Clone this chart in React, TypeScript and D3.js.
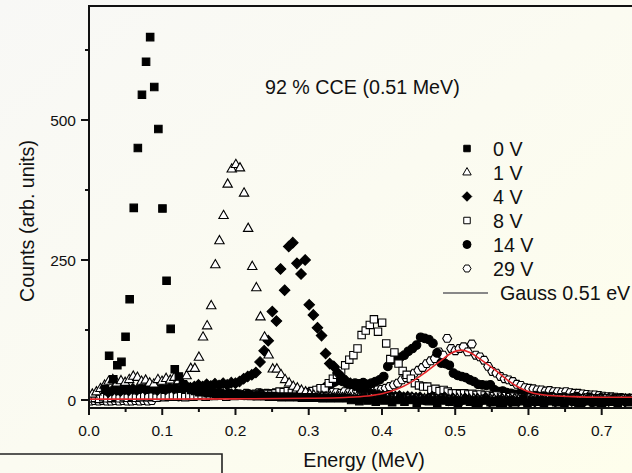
import React from "react";
import * as d3 from "d3";

// ---- data (energies are channel calibration: e0 + i * channel width) ----
const channelWidth = 0.0056; // MeV per channel

const series0VStart = 0.0051;
const counts0V: (number | null)[] = [
  null, null, null, 19, 79, 37, 62, 68, 113, 180, 343, 450, 545, 604, 648, 559, 484, 342, 213, 127, 55, 42,
  28, 22, 18, 16, 14, 15, 12, 13, 11, 12,
  10, 11, 9, 10, 9, 8, 9, 8, 7, 8,
  7, 6, 7, 6, 5, 6, 5, 6, 5, 4,
  5, 4, 5, 4, 3, 4, 3, 4, 3, 4,
  3, 0, 2, -2, 3, -1, 1, -3, 2, -1,
  1, -4, 0, 2, -3, 0, 1, -5, -1, 1,
  -2, 0, -5, 1, -1, -3, 0, -6, -1, 1,
  -3, 0, -5, -1, 1, -4, -2, 0, -6, -1,
  0, -4, -2, 1, -5, -1, -3, 0, -6, -2,
  0, -4, -1, -6, -2, 1, -3, -5, 0, -2,
  -4, 0, -6, -1, -3, 1, -5, -2, 0, -4, -1,
];

const series1VStart = 0.0045;
const counts1V: (number | null)[] = [
  10, 14, 20, 26, 33, 36, 30, 34, 31, 36,
  42, 40, 33, 35, 30, 28, 36, 33, 38, 35,
  40, 34, 30, 43, 56, 56, 76, 112, 132, 168,
  241, 284, 329, 385, 412, 420, 414, 369, 306, 238,
  200, 148, 112, 80, 55, 55, 45, 36, 30, 24,
  21, 17, 14,
  10, 8, 6, 6, 5, 6, 4, 5, 4, 5,
  4, 3, 4, 3, 4, 3, 2, 3, 2, 3,
  2, 3, 2, 1, 2, 3, 2, 1, 2, 1,
  2, 1, 2, 1, 0, 1, 2, 1, 0, 1,
  2, 1, 0, 1, 2, 1, 0, 1, 0, 1,
  2, 1, 0, 1, 0, 1, 2, 1, 0, 1,
  0, 1, 2, 1, 0, 1, 0, 1, 0, 1,
  0, 1, 2, 1, 0, 1, 0, 1, 0, 1,
];

const series4VStart = 0.0039;
const counts4V: (number | null)[] = [
  null, null, null, null, 14, 17, 18, 16, 19, 17,
  20, 18, 21, 19, 22, 20, 18, 21, 19, 22,
  20, 23, 21, 25, 22, 24, 27, 24, 28, 25,
  29, 26, 30, 27, 31, 30, 33, 38, 42, 45,
  49, 68, 88, 106, 158, 141, 234, 196, 274, 281,
  244, 225, 250, 170, 152, 129, 115, 83, 65, 60,
  48, 40, 34, 30, 26, 22, 18, 15, 12, 10,
  9, 8, 8, 7, 6, 7, 5, 6, 5, 4,
  5, 1, 3, 6, 0, 2, 5, -1, 3, 1,
  -2, 3, 0, -4, 2, -1, 4, -3, 0, -5,
  2, -1, -4, 1, -2, 3, -5, 0, -3, 2,
  -4, -1, 2, -3, 0, -5, 1, -2, -4, 0,
  -3, 2, -5, -1, 1, -4, -2, 0, -5, -1,
  -3, 1, -2,
];

const series8VStart = 0.0026;
const counts8V: (number | null)[] = [
  3, 4, 2, 5, 3, 4, 6, 3, 5, 4,
  6, 4, 5, 7, 5, 6, 4, 7, 5, 6,
  8, 6, 7, 5, 8, 6, 7, 9, 6, 8,
  7, 9, 8, 6, 9, 7, 10, 8, 9, 7,
  10, 8, 9, 11,
  10, 12, 15, 14, 16, 13, 15, 12, 14, 13,
  16, 18, 21, 21, 30, 38, 45, 52, 62, 72,
  80, 92, 116, 124, 134, 144, 122, 138, 101, 73,
  85, 65, 52, 45, 38, 30, 26, 24, 24, 18,
  20, 16, 18, 15, 12, 12, 11, 12, 10, 11,
  9, 10, 8, 9, 7, 8,
  6, 7, 5, 6, 4, 5, 3, 4, 3, 2,
  3, 2, 3, 4, 3, 2, 3, 2, 3, 2,
  3, 4, 3, 2, 3, 2, 3, 4, 3, 2,
  3, 2, 3,
];

const series14VStart = 0.0048;
const counts14V: (number | null)[] = [
  null, null, null, null, null, 4, 6, 5, 8, 6,
  7, 5, 8, 6, 9, 7, 6, 8, 7, 9,
  8, 6, 9, 7, 10, 8, 9, 7, 10, 8,
  9, 11, 8, 10, 9, 11, 10, 8, 11, 9,
  10, 12, 9, 11, 10, 12, 9, 11, 13, 10, 12,
  10, 12, 14, 15, 18, 20, 24, 28, 32, 35, 33, 30, 28, 30, 29, 31, 28, 30, 33, 36,
  42, 60, 71, 74, 76, 80, 87, 92, 98, 112, 110, 108, 101, 84, 66, 65, 62, 48, 44, 42,
  40, 36, 33, 28, 27, 26, 27, 18, 15,
  16, 13, 12, 10, 11, 9, 8, 7, 8, 6,
  7, 5, 6, 3, 4, 5, 2, 4, 6, 1,
  3, 5, 0, 2, 4, 1, 3, -1, 2, 4,
  0, 3, 1,
];

const series29VStart = 0.0018;
const counts29V: (number | null)[] = [
  -2, -1, -2, -1, -2, -2, -1, -2, -1, -2, -2, -1, -2, -1, -2, -1,
  6, 8, 9, 7, 10, 8, 9, 11, 8, 10,
  9, 11, 8, 10, 12, 9, 11, 10, 12, 9,
  11, 10, 12, 9, 11, 13, 10, 12, 11, 13,
  10, 12, 11, 13, 12, 10, 13, 11, 12, 14,
  11, 13, 12, 14, 13, 12, 15, 13, 14, 16,
  14, 15, 17, 16, 18, 19,
  21, 24, 27, 30, 36, 40, 44, 48, 53, 58,
  65, 70, 74, 86, 80, 110, 92, 88, 92, 95,
  86, 100, 80, 77, 71, 60, 51, 48, 42, 38,
  36, 33, 28, 26, 22, 21, 20, 18, 18, 16,
  17, 15, 15, 14, 15, 13, 12, 12, 11, 10,
  9, 9, 8, 7, 6, 6, 5, 4, 3, 3,
  3,
];

// Gaussian fit line
const gaussEnergy = [0, 0.1, 0.2, 0.3, 0.35, 0.38, 0.4, 0.42, 0.44, 0.46, 0.48, 0.495, 0.508, 0.52, 0.535, 0.557, 0.571, 0.589, 0.607, 0.63, 0.66, 0.7, 0.75];
const gaussCounts = [1.5, 1.5, 2, 3, 4.5, 7, 11, 19, 32, 50, 70, 84, 89, 85, 72, 51, 36, 21, 12, 8, 6, 5, 5];

const seriesLabels = ["0 V", "1 V", "4 V", "8 V", "14 V", "29 V"];
const xTicks = [0, 0.1, 0.2, 0.3, 0.4, 0.5, 0.6, 0.7];
const xMinorTicks = [0.05, 0.15, 0.25, 0.35, 0.45, 0.55, 0.65];
const yTicks = [0, 250, 500];
const yMinorTicks = [125, 375, 625];
const annotation = "92 % CCE (0.51 MeV)";
const fitLabel = "Gauss 0.51 eV";

// ---- styling ----
const FONT = "Arial, 'Liberation Sans', Helvetica, sans-serif";
const W = 632;
const H = 473;
const PL = 89, PR = 632, PT = 6, PB = 408;
const BIG = 19.7;

const sqPath = (s: number) => `M${-s / 2},${-s / 2}h${s}v${s}h${-s}Z`;
const triPath = (w: number) => {
  const h = w * 0.88;
  return `M0,${(-2 * h) / 3}L${w / 2},${h / 3}L${-w / 2},${h / 3}Z`;
};
const diaPath = (d: number) => `M0,${-d / 2}L${d / 2},0L0,${d / 2}L${-d / 2},0Z`;
const hexPath = (r: number) => {
  const pts = d3.range(6).map((k) => {
    const a = (Math.PI / 3) * k;
    return `${(r * Math.cos(a)).toFixed(2)},${(r * Math.sin(a)).toFixed(2)}`;
  });
  return `M${pts.join("L")}Z`;
};
const circPath = (r: number) => `M${r},0A${r},${r} 0 1,1 ${-r},0A${r},${r} 0 1,1 ${r},0Z`;

type Style = { path: string; legendPath: string; fill: string };
const styles: Style[] = [
  { path: sqPath(7.5), legendPath: sqPath(6.5), fill: "#000" },
  { path: triPath(9.4), legendPath: triPath(8.4), fill: "#fff" },
  { path: diaPath(10.5), legendPath: diaPath(9.5), fill: "#000" },
  { path: sqPath(7.4), legendPath: sqPath(6.5), fill: "#fff" },
  { path: circPath(4.3), legendPath: circPath(4), fill: "#000" },
  { path: hexPath(4.5), legendPath: hexPath(4), fill: "#fff" },
];

const seriesData: { start: number; counts: (number | null)[] }[] = [
  { start: series0VStart, counts: counts0V },
  { start: series1VStart, counts: counts1V },
  { start: series4VStart, counts: counts4V },
  { start: series8VStart, counts: counts8V },
  { start: series14VStart, counts: counts14V },
  { start: series29VStart, counts: counts29V },
];

export default function App() {
  const x = d3.scaleLinear().domain([0, 0.7]).range([89, 601.7]);
  const y = d3.scaleLinear().domain([0, 500]).range([400, 120]);

  const line = d3
    .line<number>()
    .x((_, i) => x(gaussEnergy[i]))
    .y((d) => y(d))
    .curve(d3.curveMonotoneX);

  const drawOrder = [5, 4, 3, 2, 1, 0];
  const legendRowY = (i: number) => 148.5 + i * 24;

  return (
    <svg
      width={W}
      height={H}
      viewBox={`0 0 ${W} ${H}`}
      style={{ position: "absolute", left: 0, top: 0, display: "block" }}
      fontFamily={FONT}
    >
      <defs>
        <linearGradient id="bg" x1="0" y1="0" x2="1" y2="1">
          <stop offset="0%" stopColor="#f8f8f6" />
          <stop offset="100%" stopColor="#fefeec" />
        </linearGradient>
        <clipPath id="plotClip">
          <rect x={PL} y={PT} width={PR - PL} height={PB - PT} />
        </clipPath>
      </defs>
      <rect x={0} y={0} width={W} height={H} fill="url(#bg)" />

      {/* data markers */}
      <g clipPath="url(#plotClip)">
        {drawOrder.map((si) => {
          const s = seriesData[si];
          const st = styles[si];
          return (
            <g key={si}>
              {s.counts.map((c, i) =>
                c === null ? null : (
                  <path
                    key={i}
                    d={st.path}
                    transform={`translate(${x(s.start + i * channelWidth).toFixed(2)},${y(c).toFixed(2)})`}
                    fill={st.fill}
                    stroke="#000"
                    strokeWidth={1.1}
                  />
                )
              )}
            </g>
          );
        })}
        <path d={line(gaussCounts) || ""} fill="none" stroke="#e3262a" strokeWidth={1.6} />
      </g>

      {/* frame */}
      <path d={`M${PL},${PB}V${PT}H${PR}`} fill="none" stroke="#111" strokeWidth={2} />
      <path d={`M${PL},${PB}H${PR}`} fill="none" stroke="#111" strokeWidth={2} />

      {/* x ticks */}
      {xTicks.map((t) => (
        <g key={t}>
          <line x1={x(t)} x2={x(t)} y1={PB} y2={PB + 7} stroke="#111" strokeWidth={2} />
          <text x={x(t)} y={435.5} textAnchor="middle" fontSize={15.5} fill="#111">
            {t.toFixed(1)}
          </text>
        </g>
      ))}
      {xMinorTicks.map((t) => (
        <line key={t} x1={x(t)} x2={x(t)} y1={PB} y2={PB + 4} stroke="#111" strokeWidth={2} />
      ))}

      {/* y ticks */}
      {yTicks.map((t) => (
        <g key={t}>
          <line x1={PL - 8} x2={PL} y1={y(t)} y2={y(t)} stroke="#111" strokeWidth={2} />
          <text x={76} y={y(t) + 5.5} textAnchor="end" fontSize={15.5} fill="#111">
            {t}
          </text>
        </g>
      ))}
      {yMinorTicks.map((t) => (
        <line key={t} x1={PL - 4} x2={PL} y1={y(t)} y2={y(t)} stroke="#111" strokeWidth={2} />
      ))}

      {/* axis titles */}
      <text x={364} y={467} textAnchor="middle" fontSize={BIG} fill="#111">
        Energy (MeV)
      </text>
      <text
        transform="translate(34,221) rotate(-90)"
        textAnchor="middle"
        fontSize={BIG}
        fill="#111"
      >
        Counts (arb. units)
      </text>

      {/* annotation */}
      <text x={265} y={94} fontSize={BIG} fill="#111">
        {annotation}
      </text>

      {/* legend */}
      {seriesLabels.map((lab, i) => (
        <g key={lab}>
          <path
            d={styles[i].legendPath}
            transform={`translate(467,${legendRowY(i)})`}
            fill={styles[i].fill}
            stroke="#000"
            strokeWidth={1}
          />
          <text x={493} y={legendRowY(i) + 7} fontSize={BIG} fill="#111">
            {lab}
          </text>
        </g>
      ))}
      <line x1={443} x2={488} y1={293} y2={293} stroke="#888" strokeWidth={2} />
      <text x={500} y={300} fontSize={BIG} fill="#111">
        {fitLabel}
      </text>

      {/* partial box at bottom-left */}
      <path d="M0,454H222V473" fill="none" stroke="#222" strokeWidth={1.6} />
    </svg>
  );
}
